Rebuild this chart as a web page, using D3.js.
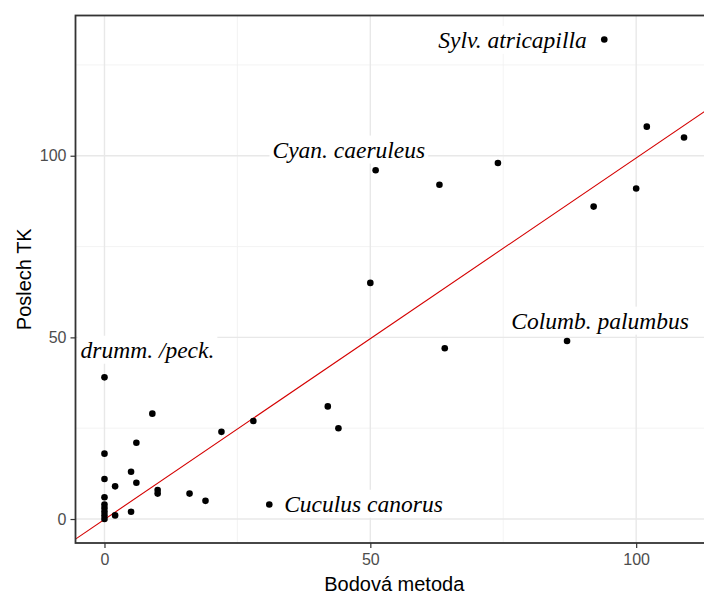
<!DOCTYPE html>
<html>
<head>
<meta charset="utf-8">
<script src="https://cdn.jsdelivr.net/npm/d3@7"></script>
<style>
  html, body { margin: 0; padding: 0; background: #fff; }
  svg { display: block; }
</style>
</head>
<body>
<svg id="chart" width="704" height="595"></svg>
<script>
// ---- Data ----
const bodova  = [0, 9, 42, 44, 22, 28, 6, 0, 5, 0, 6, 2, 10, 10, 16, 19, 0, 5, 2, 0, 0, 0, 0, 0, 31, 50, 64, 87, 51, 63, 74, 92, 100, 102, 109, 94];
const poslech = [39, 29, 31, 25, 24, 27, 21, 18, 13, 11, 10, 9, 8, 7, 7, 5, 6, 2, 1, 0, 1, 2, 3, 4, 4, 65, 47, 49, 96, 92, 98, 86, 91, 108, 105, 132];
const xTicks = [0, 50, 100];
const yTicks = [0, 50, 100];
const xMinor = [25, 75, 125];
const yMinor = [25, 75, 125];
const labelTexts = ["Sylv. atricapilla", "Cyan. caeruleus", "Columb. palumbus", "drumm. /peck.", "Cuculus canorus"];
const labelX = [90.7, 31.6, 76.5, -4.5, 33.8];
const labelY = [129.7, 99.5, 52.4, 44.4, 2.0];
const labelAnchor = ["end", "start", "start", "start", "start"];
const lineIntercept = -0.1;
const lineSlope = 0.995;
const xTitle = "Bodová metoda";
const yTitle = "Poslech TK";

// ---- Layout ----
const svg = d3.select("#chart");
const panel = { left: 75.5, top: 15.5, right: 713, bottom: 543 };

function expand(ext) {
  const r = ext[1] - ext[0];
  return [ext[0] - 0.05 * r, ext[1] + 0.05 * r];
}
const x = d3.scaleLinear().domain(expand(d3.extent(bodova))).range([panel.left, panel.right]);
const y = d3.scaleLinear().domain(expand(d3.extent(poslech))).range([panel.bottom, panel.top]);

const pw = panel.right - panel.left, ph = panel.bottom - panel.top;

svg.append("defs").append("clipPath").attr("id", "clip")
  .append("rect").attr("x", panel.left).attr("y", panel.top).attr("width", pw).attr("height", ph);

const g = svg.append("g").attr("clip-path", "url(#clip)");

// minor grid
g.append("g").selectAll("line").data(xMinor).join("line")
  .attr("x1", d => x(d)).attr("x2", d => x(d)).attr("y1", panel.top).attr("y2", panel.bottom)
  .attr("stroke", "#f0f0f0").attr("stroke-width", 0.8);
g.append("g").selectAll("line").data(yMinor).join("line")
  .attr("y1", d => y(d)).attr("y2", d => y(d)).attr("x1", panel.left).attr("x2", panel.right)
  .attr("stroke", "#f0f0f0").attr("stroke-width", 0.8);
// major grid
g.append("g").selectAll("line").data(xTicks).join("line")
  .attr("x1", d => x(d)).attr("x2", d => x(d)).attr("y1", panel.top).attr("y2", panel.bottom)
  .attr("stroke", "#e8e8e8").attr("stroke-width", 1.4);
g.append("g").selectAll("line").data(yTicks).join("line")
  .attr("y1", d => y(d)).attr("y2", d => y(d)).attr("x1", panel.left).attr("x2", panel.right)
  .attr("stroke", "#e8e8e8").attr("stroke-width", 1.4);

// labels with white background
const labG = g.append("g");
labelTexts.forEach((t, i) => {
  const grp = labG.append("g");
  const bg = grp.append("rect").attr("fill", "#fff");
  const txt = grp.append("text")
    .attr("x", x(labelX[i])).attr("y", y(labelY[i]))
    .attr("text-anchor", labelAnchor[i])
    .attr("font-family", "'Liberation Serif', 'Times New Roman', serif")
    .attr("font-style", "italic")
    .attr("font-size", 23.5)
    .attr("fill", "#000")
    .text(t);
  const bb = txt.node().getBBox();
  bg.attr("x", bb.x - 3).attr("y", bb.y - 1).attr("width", bb.width + 6).attr("height", bb.height + 2);
});

// reference line
const xd = x.domain();
g.append("line")
  .attr("x1", x(xd[0])).attr("y1", y(lineIntercept + lineSlope * xd[0]))
  .attr("x2", x(xd[1])).attr("y2", y(lineIntercept + lineSlope * xd[1]))
  .attr("stroke", "#d40000").attr("stroke-width", 1.1);

// points
g.append("g").selectAll("circle").data(bodova.map((d, i) => [d, poslech[i]])).join("circle")
  .attr("cx", d => x(d[0])).attr("cy", d => y(d[1])).attr("r", 3.3).attr("fill", "#000");

// panel border
svg.append("rect").attr("x", panel.left).attr("y", panel.top).attr("width", pw).attr("height", ph)
  .attr("fill", "none").attr("stroke", "#333").attr("stroke-width", 1.8);

// axes
const axFont = "'Liberation Sans', Arial, sans-serif";
const xAxis = svg.append("g").attr("transform", `translate(0,${panel.bottom})`)
  .call(d3.axisBottom(x).tickValues(xTicks).tickSize(5).tickPadding(6).tickFormat(d3.format("d")));
const yAxis = svg.append("g").attr("transform", `translate(${panel.left},0)`)
  .call(d3.axisLeft(y).tickValues(yTicks).tickSize(5).tickPadding(4).tickFormat(d3.format("d")));
[xAxis, yAxis].forEach(a => {
  a.select(".domain").remove();
  a.selectAll(".tick line").attr("stroke", "#333").attr("stroke-width", 1.2);
  a.selectAll(".tick text").attr("fill", "#4d4d4d").attr("font-size", 16).attr("font-family", axFont);
});

// titles
svg.append("text").attr("x", (panel.left + panel.right) / 2).attr("y", 591)
  .attr("text-anchor", "middle").attr("font-family", axFont).attr("font-size", 20).attr("fill", "#000")
  .text(xTitle);
svg.append("text").attr("transform", `translate(31,${(panel.top + panel.bottom) / 2}) rotate(-90)`)
  .attr("text-anchor", "middle").attr("font-family", axFont).attr("font-size", 20).attr("fill", "#000")
  .text(yTitle);
</script>
</body>
</html>
